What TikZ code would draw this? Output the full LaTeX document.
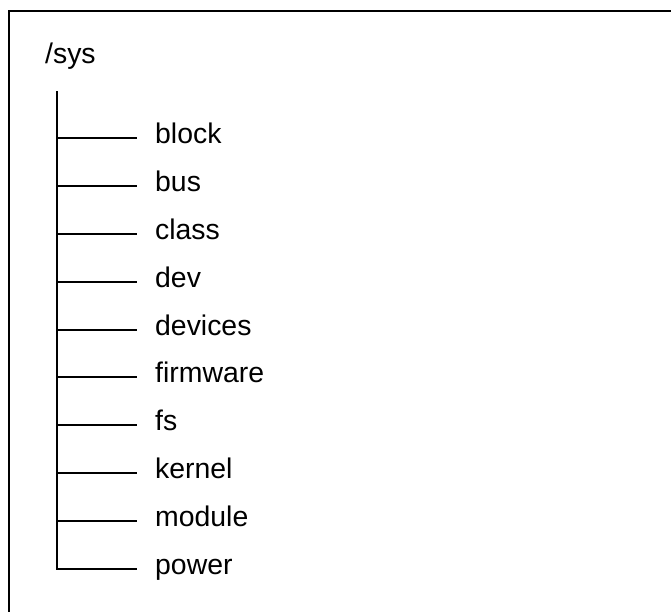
\documentclass[tikz,border=0pt]{standalone}
\usepackage{fontspec}
\setmainfont{Liberation Sans}
\begin{document}
\begin{tikzpicture}[x=1pt,y=-1pt,
  treeline/.style={line width=2.8pt, line cap=rect},
  entry/.style={anchor=base west, inner sep=0pt, font=\fontsize{28.4}{32}\selectfont},
  frame/.style={line width=2.8pt}]
  \useasboundingbox (0,0) rectangle (671,612);
  % outer frame (runs past the right and bottom edges)
  \draw[frame] (9,680) -- (9,11) -- (700,11);
  % root label
  \node[entry] (root) at (45,63.5) {/sys};
  % trunk
  \coordinate (top) at (57,92);
  \coordinate (bot) at (57,569);
  \draw[treeline] (top) -- (bot);
  % branches, one per directory entry
  \foreach \name [count=\i from 0] in {block,bus,class,dev,devices,firmware,fs,kernel,module,power} {
    \pgfmathsetmacro{\yy}{round(138+47.9*\i)}
    \coordinate (j\i) at (57,\yy);
    \coordinate (e\i) at (136,\yy);
    \draw[treeline] (j\i) -- (e\i);
    \node[entry] (n\i) at (155,\yy+5.5) {\name};
  }
\end{tikzpicture}
\end{document}
